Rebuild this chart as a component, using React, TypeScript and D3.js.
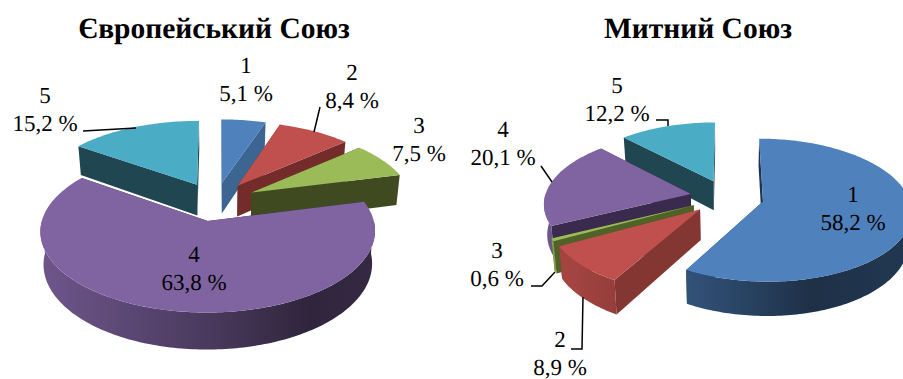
import React from "react";
import * as d3 from "d3";

// Shares per customs bloc, in percent, slices 1 to 5
const euValues = [5.1, 8.4, 7.5, 63.8, 15.2];
const cuValues = [58.2, 8.9, 0.6, 20.1, 12.2];
const sliceNames = ["1", "2", "3", "4", "5"];
const euTitle = "Європейський Союз";
const cuTitle = "Митний Союз";

const topColors = ["#4f81bd", "#c0504d", "#9bbb59", "#8064a2", "#4bacc6"];
const euCutColors = ["#3c6591", "#732c2a", "#404a20", "#3a2a4d", "#1f4651"];
const cuCutColors = ["#1d3350", "#843633", "#4f6228", "#3a2a4d", "#1f4651"];

type Pt = [number, number];
type Label = { x: number; y: number; line?: Pt[] };

const euLabels: Label[] = [
  { x: 246, y: 73 },
  { x: 352, y: 80, line: [[320, 107], [314, 132]] },
  { x: 419, y: 133 },
  { x: 194, y: 262 },
  { x: 45, y: 103, line: [[83, 131], [136, 128]] },
];
const cuLabels: Label[] = [
  { x: 853, y: 202 },
  { x: 560, y: 347, line: [[571, 349], [582, 349], [583, 297]] },
  { x: 497, y: 258, line: [[531, 286], [542, 286], [555, 272]] },
  { x: 503, y: 137, line: [[541, 166], [552, 182]] },
  { x: 617, y: 93, line: [[656, 120], [668, 120], [668, 126]] },
];

type Geometry = {
  cx: number;
  cy: number;
  radius: number;
  tilt: number;
  perspective: number;
  explode: number;
  depth: number;
  taper: number;
};

const euGeometry: Geometry = { cx: 215.5, cy: 201.5, radius: 161, tilt: 0.468, perspective: 0.12, explode: 0.256, depth: 31.5, taper: 0.018 };
const cuGeometry: Geometry = { cx: 727, cy: 197, radius: 146, tilt: 0.475, perspective: 0.12, explode: 0.253, depth: 30, taper: 0.018 };

const TAU = Math.PI * 2;
const pieLayout = d3.pie<number>().sort(null).startAngle(0).endAngle(TAU);
const toPath = d3.line<Pt>();

function PieChart({ id, values, cuts, labels, title, titleX, geo }: {
  id: string;
  values: number[];
  cuts: string[];
  labels: Label[];
  title: string;
  titleX: number;
  geo: Geometry;
}) {
  // Perspective projection of a point on the disc; h is 0 on top and 1 at the base
  const project = (u: number, v: number, h: number): Pt => {
    const k = 1 / (1 - geo.perspective * v);
    return [
      geo.cx + geo.radius * u * k * (1 - geo.taper * h),
      geo.cy + geo.radius * geo.tilt * v * k + geo.depth * k * h,
    ];
  };

  const slices = pieLayout(values).map((arc, i) => {
    const mid = (arc.startAngle + arc.endAngle) / 2;
    const ou = geo.explode * Math.sin(mid);
    const ov = -geo.explode * Math.cos(mid);
    const rim = (a: number, h: number) => project(ou + Math.sin(a), ov - Math.cos(a), h);
    const sample = (a0: number, a1: number) => {
      const n = Math.max(2, Math.ceil(Math.abs(a1 - a0) / 0.02));
      return d3.range(n + 1).map((j) => a0 + ((a1 - a0) * j) / n);
    };
    const apexTop = project(ou, ov, 0);
    const apexBase = project(ou, ov, 1);
    const top = [apexTop, ...sample(arc.startAngle, arc.endAngle).map((a) => rim(a, 0))];
    const wall = (a: number) => [apexTop, rim(a, 0), rim(a, 1), apexBase];
    const front0 = Math.max(arc.startAngle, Math.PI / 2);
    const front1 = Math.min(arc.endAngle, (3 * Math.PI) / 2);
    const outer = front1 > front0
      ? [...sample(front0, front1).map((a) => rim(a, 0)), ...sample(front1, front0).map((a) => rim(a, 1))]
      : null;
    return { i, ov, top, walls: [wall(arc.startAngle), wall(arc.endAngle)], outer };
  });

  // Painter's order, farthest slice first
  const ordered = [...slices].sort((a, b) => a.ov - b.ov);
  const span = geo.radius * 1.05;

  return (
    <g>
      <defs>
        {topColors.map((c, i) => {
          const shade = d3.scaleLinear<string>()
            .domain([0, 0.5, 0.78, 1])
            .range([0.85, 0.56, 0.37, 0.42].map((s) => d3.interpolateRgb("#000", c)(s)));
          return (
            <linearGradient key={i} id={`${id}-side-${i}`} gradientUnits="userSpaceOnUse"
              x1={geo.cx - span} x2={geo.cx + span} y1={0} y2={0}>
              {[0, 0.5, 0.78, 1].map((o) => <stop key={o} offset={o} stopColor={shade(o)} />)}
            </linearGradient>
          );
        })}
      </defs>
      {ordered.map((s) => (
        <g key={s.i}>
          {s.walls.map((w, j) => (
            <path key={j} d={toPath(w) + "Z"} fill={cuts[s.i]} />
          ))}
          {s.outer && <path d={toPath(s.outer) + "Z"} fill={`url(#${id}-side-${s.i})`} />}
          <path d={toPath(s.top) + "Z"} fill={topColors[s.i]} />
        </g>
      ))}
      {labels.map((l, i) => (
        <g key={i}>
          {l.line && <path d={toPath(l.line)!} fill="none" stroke="#000" strokeWidth={1.5} />}
          <text x={l.x} y={l.y} textAnchor="middle" fontSize={23}>{sliceNames[i]}</text>
          <text x={l.x} y={l.y + 28} textAnchor="middle" fontSize={23}>
            {`${values[i].toFixed(1).replace(".", ",")} %`}
          </text>
        </g>
      ))}
      <text x={titleX} y={38} textAnchor="middle" fontSize={29.5} fontWeight="bold">{title}</text>
    </g>
  );
}

export default function App() {
  return (
    <svg width={903} height={379} viewBox="0 0 903 379" textRendering="geometricPrecision"
      style={{ position: "absolute", left: 0, top: 0, background: "#fff", fontFamily: "'Liberation Serif', serif" }}>
      <PieChart id="eu" values={euValues} cuts={euCutColors} labels={euLabels} title={euTitle} titleX={214} geo={euGeometry} />
      <PieChart id="cu" values={cuValues} cuts={cuCutColors} labels={cuLabels} title={cuTitle} titleX={698} geo={cuGeometry} />
    </svg>
  );
}
